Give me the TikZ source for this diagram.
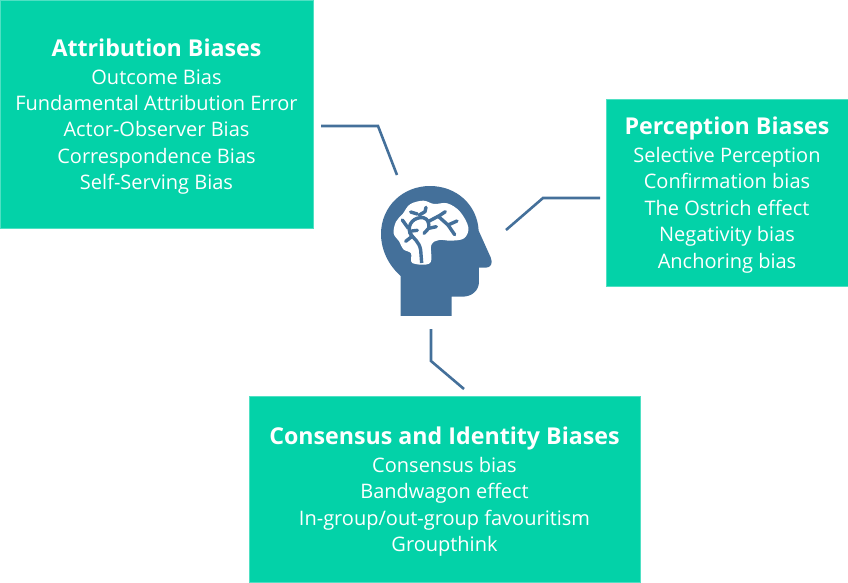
\documentclass[tikz,border=0pt]{standalone}
\usepackage{fontspec}
\setmainfont{Open Sans}
\definecolor{boxgreen}{HTML}{03D2A8}
\definecolor{boxedge}{HTML}{4FE0C3}
\definecolor{headblue}{HTML}{44709A}
\tikzset{
  biasbox/.style={rectangle,fill=boxgreen,draw=boxedge,line width=0.8pt,text=white,align=center,inner sep=0pt,
    font=\fontsize{20}{26.4}\selectfont},
  link/.style={draw=headblue,line width=2.6pt,line join=miter},
  twig/.style={draw=headblue,line width=3.4pt,line cap=round,line join=round}
}
\newcommand{\boxtitle}[1]{{\fontsize{23.2}{26.4}\selectfont\bfseries\rule{0pt}{22.5pt}#1}}
\begin{document}
\begin{tikzpicture}[x=1pt,y=-1pt]
\useasboundingbox (0,0) rectangle (848,582);
\node[biasbox,minimum width=313pt,minimum height=228pt] (attr) at (156.5,114)
 {\boxtitle{Attribution Biases}\\[1.5pt]Outcome Bias\\Fundamental Attribution Error\\Actor-Observer Bias\\Correspondence Bias\\Self-Serving Bias};
\node[biasbox,minimum width=242pt,minimum height=187pt] (perc) at (727,192.5)
 {\boxtitle{Perception Biases}\\[1.5pt]Selective Perception\\Confirmation bias\\The Ostrich effect\\Negativity bias\\Anchoring bias};
\node[biasbox,minimum width=391pt,minimum height=186pt] (cons) at (444.5,489)
 {\boxtitle{Consensus and Identity Biases}\\[1.5pt]Consensus bias\\Bandwagon effect\\In-group/out-group favouritism\\Groupthink};
% head
\begin{scope}[shift={(360,170)},x=0.3333pt,y=-0.3333pt]
\fill[headblue] (122,438) -- (122,318)
  .. controls (85,285) and (63,240) .. (63,192)
  .. controls (63,110) and (128,48) .. (210,48)
  .. controls (290,48) and (352,105) .. (356,182)
  -- (392,262) .. controls (400,280) and (392,293) .. (378,293)
  -- (357,293) -- (357,335)
  .. controls (357,362) and (335,380) .. (308,380)
  -- (275,380) -- (275,438) -- cycle;
\fill[white] plot[smooth cycle,tension=0.6] coordinates {
  (157,279) (153,250) (130,238) (118,215) (101,190) (108,155) (128,132)
  (150,103) (190,92) (222,102) (262,100) (300,125) (325,172) (312,205)
  (272,212) (238,210) (214,225) (210,279)};
\fill[white] (157,240) rectangle (210,279);
\draw[twig,line cap=butt] (185,279) -- (182,240) .. controls (178,215) and (160,205) .. (150,190);
\draw[twig] (150,190) .. controls (140,160) and (165,140) .. (190,143) .. controls (205,147) and (208,160) .. (206,175) -- (192,190);
\draw[twig] (204,155) -- (238,137) -- (256,125);
\draw[twig] (236,140) -- (264,165) -- (291,153);
\draw[twig] (264,165) -- (284,194);
\draw[twig] (206,175) -- (229,170);
\draw[twig] (178,135) -- (195,125) -- (198,112);
\draw[twig] (172,132) -- (152,126);
\draw[twig] (145,175) -- (127,150);
\draw[twig] (137,214) -- (155,200) -- (150,185);
\draw[twig] (155,183) -- (172,181);
\end{scope}
% connector ends
\coordinate (a1) at (321,126); \coordinate (a2) at (378,126); \coordinate (a3) at (397,175);
\coordinate (p1) at (600,198); \coordinate (p2) at (543,198); \coordinate (p3) at (506,230);
\coordinate (c1) at (431,329); \coordinate (c2) at (431,361); \coordinate (c3) at (464,389);
\draw[link] (a1) -- (a2) -- (a3);
\draw[link] (p1) -- (p2) -- (p3);
\draw[link] (c1) -- (c2) -- (c3);
\end{tikzpicture}
\end{document}
